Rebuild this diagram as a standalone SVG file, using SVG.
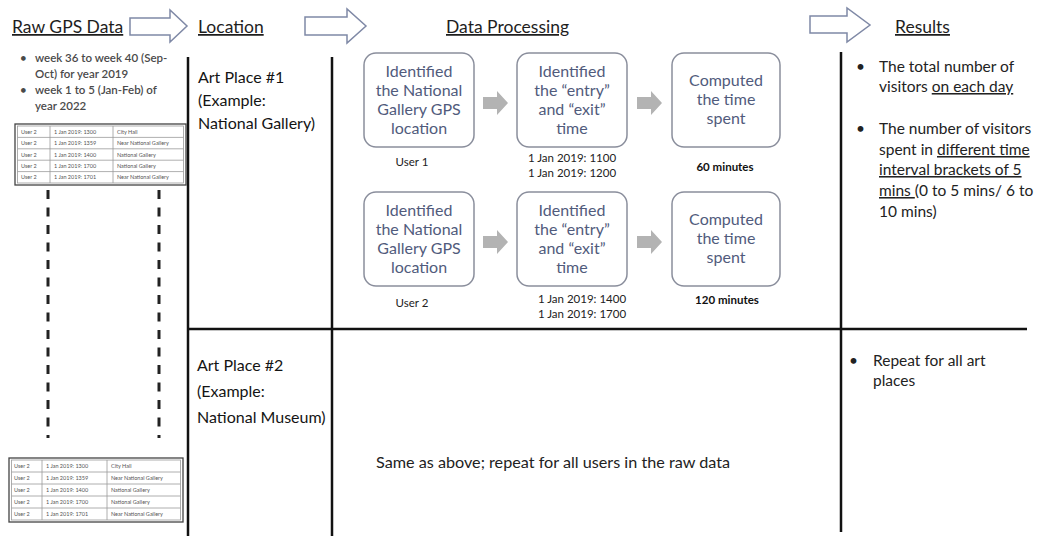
<svg xmlns="http://www.w3.org/2000/svg" width="1040" height="536" viewBox="0 0 1040 536">
  <style>
    text { font-family: Lato, "Liberation Sans", sans-serif; }
    .hdr { font-size: 17.5px; fill: #1e1e1e; text-decoration: underline; }
    .note { font-size: 11.5px; fill: #4a4a4a; font-weight: 600; }
    .place { font-size: 16px; fill: #141414; }
    .res { font-size: 15.5px; fill: #222; }
    .u { text-decoration: underline; }
    .box { fill: #fff; stroke: #8a8e9c; stroke-width: 1.5; }
    .boxtxt { font-size: 16px; fill: #515b7c; text-anchor: middle; }
    .lbl { font-size: 11.5px; fill: #222; text-anchor: middle; }
    .lblb { font-size: 11.5px; fill: #111; text-anchor: middle; font-weight: 700; }
    .divider { stroke: #111; stroke-width: 2.5; fill: none; }
    .dash { stroke: #222; stroke-width: 3; stroke-dasharray: 9 8.5; fill: none; }
    .hdrarrow { fill: #fff; stroke: #7f89a6; stroke-width: 1.5; stroke-linejoin: miter; }
    .steparrow { fill: #b3b3b3; }
    .tbl-frame { fill: #fff; stroke: #444; stroke-width: 1.3; }
    .tbl-grid { stroke: #9a9a9a; stroke-width: 0.8; fill: none; }
    .cell { font-size: 5.5px; fill: #555; }
  </style>

  <!-- column headers -->
  <g id="headers">
    <text class="hdr" x="12" y="33">Raw GPS Data</text>
    <text class="hdr" x="198" y="33">Location</text>
    <text class="hdr" x="446" y="33">Data Processing</text>
    <text class="hdr" x="895" y="33">Results</text>
  </g>

  <!-- grid lines separating the columns and art places -->
  <g id="grid">
    <line class="divider" x1="188" y1="57" x2="188" y2="536"/>
    <line class="divider" x1="332" y1="57" x2="332" y2="536"/>
    <line class="divider" x1="841" y1="52" x2="841" y2="532"/>
    <line class="divider" x1="188" y1="329" x2="1027" y2="329"/>
  </g>

  <!-- raw data description -->
  <g id="raw-notes">
    <text class="note" x="20" y="62">•</text>
    <text class="note" x="35" y="62">week 36 to week 40 (Sep-</text>
    <text class="note" x="35" y="78">Oct) for year 2019</text>
    <text class="note" x="20" y="94">•</text>
    <text class="note" x="35" y="94">week 1 to 5 (Jan-Feb) of</text>
    <text class="note" x="35" y="110">year 2022</text>
  </g>

  <!-- first raw data sample -->
  <g id="raw-table-1">
    <rect class="tbl-frame" x="15" y="124" width="171" height="61"/>
    <rect class="tbl-grid" x="17.5" y="126" width="166" height="57"/>
    <path class="tbl-grid" d="M17.5,137.4 H183.5 M17.5,148.8 H183.5 M17.5,160.2 H183.5 M17.5,171.6 H183.5 M50,126 V183 M113,126 V183"/>
    <text class="cell" x="21" y="133.7">User 2</text><text class="cell" x="54" y="133.7">1 Jan 2019: 1300</text><text class="cell" x="117" y="133.7">City Hall</text>
    <text class="cell" x="21" y="145.1">User 2</text><text class="cell" x="54" y="145.1">1 Jan 2019: 1359</text><text class="cell" x="117" y="145.1">Near National Gallery</text>
    <text class="cell" x="21" y="156.5">User 2</text><text class="cell" x="54" y="156.5">1 Jan 2019: 1400</text><text class="cell" x="117" y="156.5">National Gallery</text>
    <text class="cell" x="21" y="167.9">User 2</text><text class="cell" x="54" y="167.9">1 Jan 2019: 1700</text><text class="cell" x="117" y="167.9">National Gallery</text>
    <text class="cell" x="21" y="179.3">User 2</text><text class="cell" x="54" y="179.3">1 Jan 2019: 1701</text><text class="cell" x="117" y="179.3">Near National Gallery</text>
  </g>

  <!-- continuation marks between the samples -->
  <g id="raw-continuation">
    <line class="dash" x1="48" y1="190" x2="48" y2="438"/>
    <line class="dash" x1="159" y1="190" x2="159" y2="438"/>
  </g>

  <!-- last raw data sample -->
  <g id="raw-table-2">
    <rect class="tbl-frame" x="9" y="458" width="174" height="64"/>
    <rect class="tbl-grid" x="11.5" y="460" width="169" height="60"/>
    <path class="tbl-grid" d="M11.5,472 H180.5 M11.5,484 H180.5 M11.5,496 H180.5 M11.5,508 H180.5 M42,460 V520 M107,460 V520"/>
    <text class="cell" x="14" y="468">User 2</text><text class="cell" x="46" y="468">1 Jan 2019: 1300</text><text class="cell" x="111" y="468">City Hall</text>
    <text class="cell" x="14" y="480">User 2</text><text class="cell" x="46" y="480">1 Jan 2019: 1359</text><text class="cell" x="111" y="480">Near National Gallery</text>
    <text class="cell" x="14" y="492">User 2</text><text class="cell" x="46" y="492">1 Jan 2019: 1400</text><text class="cell" x="111" y="492">National Gallery</text>
    <text class="cell" x="14" y="504">User 2</text><text class="cell" x="46" y="504">1 Jan 2019: 1700</text><text class="cell" x="111" y="504">National Gallery</text>
    <text class="cell" x="14" y="516">User 2</text><text class="cell" x="46" y="516">1 Jan 2019: 1701</text><text class="cell" x="111" y="516">Near National Gallery</text>
  </g>

  <!-- locations -->
  <g id="place-1">
    <text class="place" x="198" y="83">Art Place #1</text>
    <text class="place" x="198" y="106">(Example:</text>
    <text class="place" x="198" y="129">National Gallery)</text>
  </g>
  <g id="place-2">
    <text class="place" x="197" y="371">Art Place #2</text>
    <text class="place" x="197" y="397">(Example:</text>
    <text class="place" x="197" y="423">National Museum)</text>
  </g>

  <!-- processing steps, user 1 -->
  <g id="u1-locate">
    <rect class="box" x="364" y="53" width="110" height="94" rx="12"/>
    <text class="boxtxt" x="419" y="77">Identified</text>
    <text class="boxtxt" x="419" y="96">the National</text>
    <text class="boxtxt" x="419" y="115">Gallery GPS</text>
    <text class="boxtxt" x="419" y="134">location</text>
    <text class="lbl" x="412" y="166">User 1</text>
  </g>
  <g id="u1-entry-exit">
    <rect class="box" x="517" y="53" width="110" height="94" rx="12"/>
    <text class="boxtxt" x="572" y="77">Identified</text>
    <text class="boxtxt" x="572" y="96">the “entry”</text>
    <text class="boxtxt" x="572" y="115">and “exit”</text>
    <text class="boxtxt" x="572" y="134">time</text>
    <text class="lbl" x="572" y="162">1 Jan 2019: 1100</text>
    <text class="lbl" x="572" y="177">1 Jan 2019: 1200</text>
  </g>
  <g id="u1-duration">
    <rect class="box" x="672" y="53" width="108" height="94" rx="12"/>
    <text class="boxtxt" x="726" y="86">Computed</text>
    <text class="boxtxt" x="726" y="105">the time</text>
    <text class="boxtxt" x="726" y="124">spent</text>
    <text class="lblb" x="725" y="171">60 minutes</text>
  </g>

  <!-- processing steps, user 2 -->
  <g id="u2-locate">
    <rect class="box" x="364" y="192" width="110" height="94" rx="12"/>
    <text class="boxtxt" x="419" y="216">Identified</text>
    <text class="boxtxt" x="419" y="235">the National</text>
    <text class="boxtxt" x="419" y="254">Gallery GPS</text>
    <text class="boxtxt" x="419" y="273">location</text>
    <text class="lbl" x="412" y="307">User 2</text>
  </g>
  <g id="u2-entry-exit">
    <rect class="box" x="517" y="192" width="110" height="94" rx="12"/>
    <text class="boxtxt" x="572" y="216">Identified</text>
    <text class="boxtxt" x="572" y="235">the “entry”</text>
    <text class="boxtxt" x="572" y="254">and “exit”</text>
    <text class="boxtxt" x="572" y="273">time</text>
    <text class="lbl" x="582" y="303">1 Jan 2019: 1400</text>
    <text class="lbl" x="582" y="318">1 Jan 2019: 1700</text>
  </g>
  <g id="u2-duration">
    <rect class="box" x="672" y="192" width="108" height="94" rx="12"/>
    <text class="boxtxt" x="726" y="225">Computed</text>
    <text class="boxtxt" x="726" y="244">the time</text>
    <text class="boxtxt" x="726" y="263">spent</text>
    <text class="lblb" x="727" y="304">120 minutes</text>
  </g>

  <!-- remaining places -->
  <g id="repeat-note">
    <text class="res" x="376" y="468" style="font-size:16.2px">Same as above; repeat for all users in the raw data</text>
  </g>

  <!-- results -->
  <g id="results-1">
    <text class="res" x="856" y="72">•</text>
    <text class="res" x="879" y="72">The total number of</text>
    <text class="res" x="879" y="92">visitors <tspan class="u">on each day</tspan></text>
    <text class="res" x="856" y="134">•</text>
    <text class="res" x="879" y="134">The number of visitors</text>
    <text class="res" x="879" y="155">spent in <tspan class="u">different time</tspan></text>
    <text class="res" x="879" y="175"><tspan class="u">interval brackets of 5</tspan></text>
    <text class="res" x="879" y="196"><tspan class="u">mins </tspan>(0 to 5 mins/ 6 to</text>
    <text class="res" x="879" y="217">10 mins)</text>
  </g>
  <g id="results-2">
    <text class="res" x="849" y="366">•</text>
    <text class="res" x="873" y="366">Repeat for all art</text>
    <text class="res" x="873" y="386">places</text>
  </g>

  <!-- flow arrows -->
  <g id="connectors">
    <path class="hdrarrow" d="M130,18 H170 V10 L187,26 L170,42 V35 H130 Z"/>
    <path class="hdrarrow" d="M305,17 H347 V9 L366,26 L347,43 V35 H305 Z"/>
    <path class="hdrarrow" d="M810,16 H847 V8 L870,25 L847,42 V33 H810 Z"/>
    <path class="steparrow" d="M483,97 H497 V91 L508,103 L497,115 V109 H483 Z"/>
    <path class="steparrow" d="M637,97 H651 V91 L662,103 L651,115 V109 H637 Z"/>
    <path class="steparrow" d="M483,236 H497 V230 L508,242 L497,254 V248 H483 Z"/>
    <path class="steparrow" d="M637,236 H651 V230 L662,242 L651,254 V248 H637 Z"/>
  </g>
</svg>
